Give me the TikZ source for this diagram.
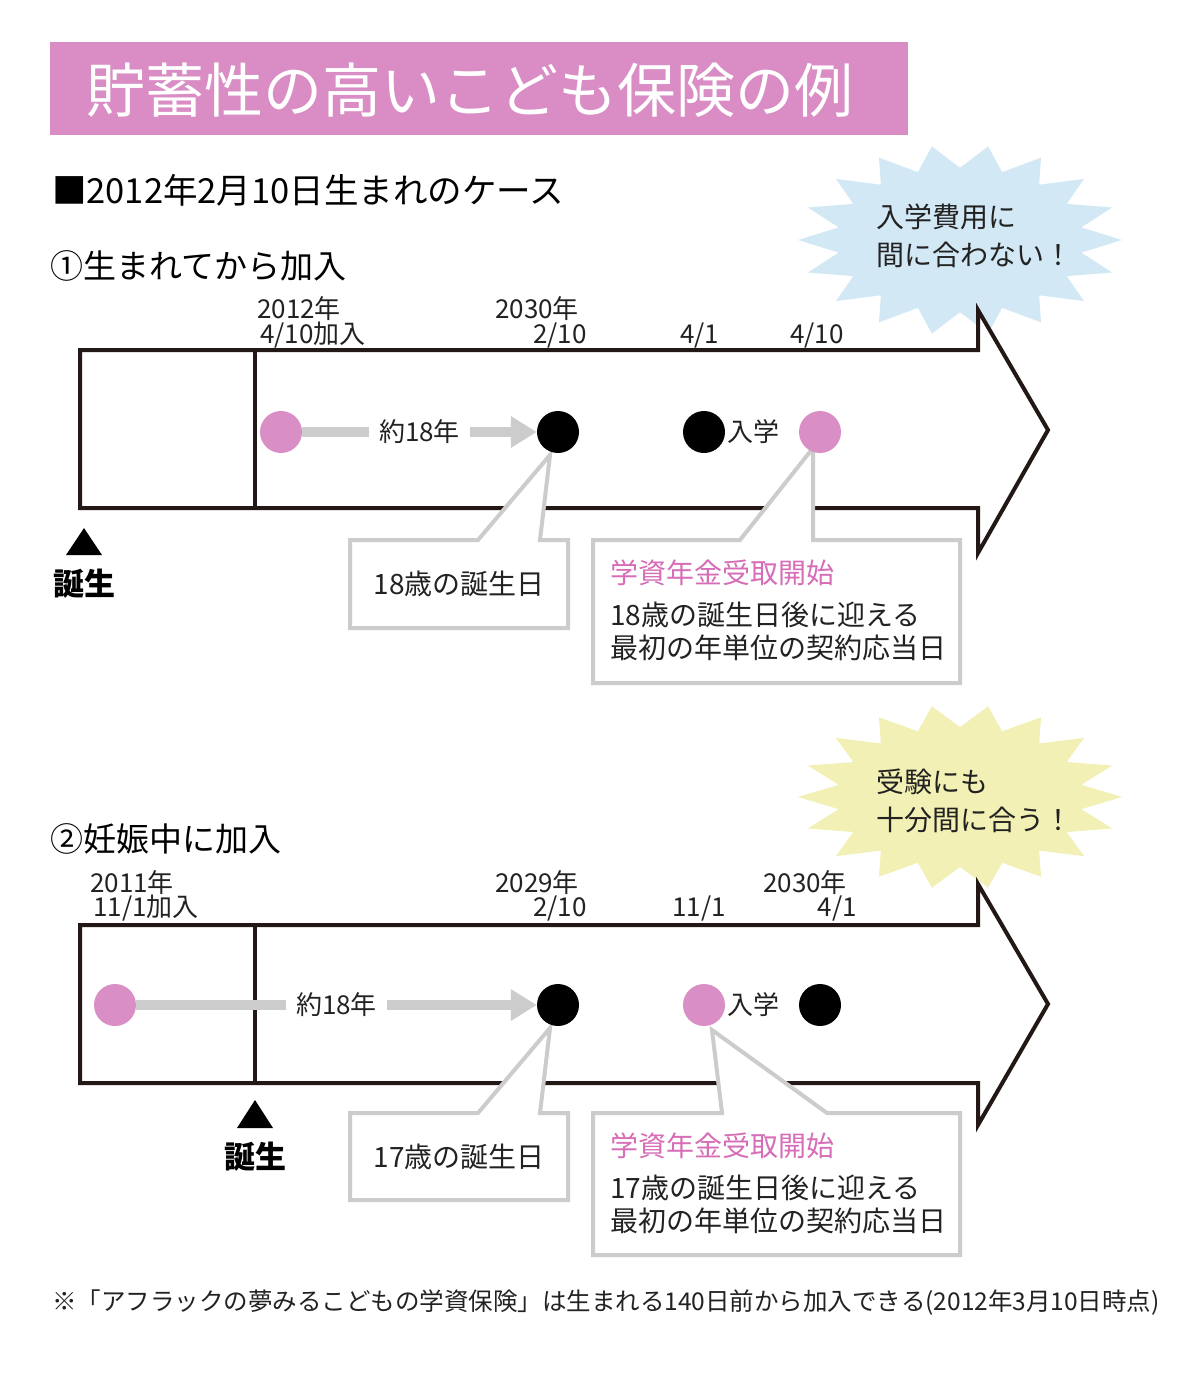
\documentclass[tikz,border=0pt]{standalone}
\usepackage{fontspec}
\setmainfont{Noto Sans CJK JP}
\usetikzlibrary{arrows.meta}
\definecolor{linec}{HTML}{231815}
\definecolor{textc}{HTML}{222222}
\definecolor{pinkc}{HTML}{DA8EC6}
\definecolor{pinktext}{HTML}{D66DB6}
\definecolor{grayc}{HTML}{CCCCCC}
\definecolor{bluestar}{HTML}{D3E8F5}
\definecolor{yellowstar}{HTML}{F2F0B4}
\definecolor{titlebg}{HTML}{D98DC4}
\newcommand{\mystarburst}[5]{%
  \fill[#5] ({#1+#3},#2) \foreach \i in {1,...,35}{ -- ({#1+#3*(1-0.24*mod(\i,2))*cos(\i*10)},{#2+#4*(1-0.24*mod(\i,2))*sin(\i*10)}) } -- cycle;}
\begin{document}
\begin{tikzpicture}[x=1pt,y=-1pt,
  tl/.style={draw=linec,line width=4pt,fill=white,line join=miter},
  divider/.style={draw=linec,line width=4pt},
  pdot/.style={circle,fill=pinkc,minimum size=42pt,inner sep=0pt},
  bdot/.style={circle,fill=black,minimum size=42pt,inner sep=0pt},
  callout/.style={draw=grayc,line width=4pt,fill=white,line join=miter},
  gline/.style={draw=grayc,line width=10pt,-{Triangle[length=26pt,width=30pt]}},
  lab/.style={font=\fontsize{26}{28}\selectfont,inner sep=0pt,text=textc},
  head/.style={font=\fontsize{33}{36}\selectfont,inner sep=0pt,text=black},
  ctext/.style={font=\fontsize{28}{30}\selectfont,inner sep=0pt,text=textc},
  stext/.style={font=\fontsize{28}{38}\selectfont,inner sep=0pt,text=textc,align=left},
  birth/.style={font=\fontsize{31}{34}\selectfont\bfseries,inner sep=0pt,text=black},
  mid/.style={lab,fill=white,inner xsep=10pt,inner ysep=4pt}
]
\useasboundingbox (0,0) rectangle (1200,1400);
\fill[white] (0,0) rectangle (1200,1400);

% title
\fill[titlebg] (50,42) rectangle (908,135);
\node[font=\fontsize{59}{64}\selectfont,text=white,inner sep=0pt] (title) at (470,90) {貯蓄性の高いこども保険の例};

\node[head,font=\fontsize{34.5}{38}\selectfont,anchor=base west] (case) at (52,203) {■2012年2月10日生まれのケース};
\node[head,anchor=base west] (sec1) at (50,278) {①生まれてから加入};
\node[head,anchor=base west] (sec2) at (50,851) {②妊娠中に加入};

% starbursts
\mystarburst{960}{240}{162}{95}{bluestar}
\node[stext,anchor=north west] (s1) at (876,204) {入学費用に\\間に合わない！};
\mystarburst{960}{797}{162}{92}{yellowstar}
\node[stext,anchor=north west] (s2) at (876,769) {受験にも\\十分間に合う！};

% ===== timeline 1 =====
\path[tl] (80,350) -- (978,350) -- (978,310) -- (1048,430) -- (978,553) -- (978,508) -- (80,508) -- cycle;
\draw[divider] (255,350) -- (255,508);

\node[lab,anchor=base west] at (257,318) {2012年};
\node[lab,anchor=base west] at (260,343) {4/10加入};
\node[lab,anchor=base west] at (495,318) {2030年};
\node[lab,anchor=base east] at (587,343) {2/10};
\node[lab,anchor=base west] at (680,343) {4/1};
\node[lab,anchor=base west] at (790,343) {4/10};

\path[callout] (350,540) -- (478,540) -- (550,455) -- (540,540) -- (568,540) -- (568,628) -- (350,628) -- cycle;
\node[ctext] (c1) at (459,584) {18歳の誕生日};
\path[callout] (593,540) -- (740,540) -- (813,448) -- (813,540) -- (960,540) -- (960,683) -- (593,683) -- cycle;
\node[ctext,text=pinktext,anchor=base west] (c2a) at (610,583) {学資年金受取開始};
\node[ctext,anchor=base west] (c2b) at (610,625) {18歳の誕生日後に迎える};
\node[ctext,anchor=base west] (c2c) at (610,658) {最初の年単位の契約応当日};

\node[pdot] (p1) at (281,432) {};
\node[bdot] (b1) at (558,432) {};
\node[bdot] (b2) at (704,432) {};
\node[pdot] (p2) at (820,432) {};
\draw[gline] (p1) -- node[mid] {約18年} (b1);
\node[lab,anchor=west] (e1) at (727,432) {入学};

\fill[black] (84,528) -- (102,555) -- (66,555) -- cycle;
\node[birth,anchor=base] (t1) at (84,595) {誕生};

% ===== timeline 2 =====
\path[tl] (80,925) -- (978,925) -- (978,884) -- (1048,1004) -- (978,1125) -- (978,1083) -- (80,1083) -- cycle;
\draw[divider] (255,925) -- (255,1083);

\node[lab,anchor=base west] at (90,892) {2011年};
\node[lab,anchor=base west] at (93,916) {11/1加入};
\node[lab,anchor=base west] at (495,892) {2029年};
\node[lab,anchor=base east] at (587,916) {2/10};
\node[lab,anchor=base west] at (672,916) {11/1};
\node[lab,anchor=base west] at (763,892) {2030年};
\node[lab,anchor=base east] at (857,916) {4/1};

\path[callout] (350,1113) -- (478,1113) -- (550,1028) -- (540,1113) -- (568,1113) -- (568,1200) -- (350,1200) -- cycle;
\node[ctext] (c3) at (459,1157) {17歳の誕生日};
\path[callout] (593,1113) -- (722,1113) -- (712,1030) -- (827,1113) -- (960,1113) -- (960,1255) -- (593,1255) -- cycle;
\node[ctext,text=pinktext,anchor=base west] (c4a) at (610,1156) {学資年金受取開始};
\node[ctext,anchor=base west] (c4b) at (610,1198) {17歳の誕生日後に迎える};
\node[ctext,anchor=base west] (c4c) at (610,1231) {最初の年単位の契約応当日};

\node[pdot] (p3) at (115,1005) {};
\node[bdot] (b3) at (558,1005) {};
\node[pdot] (p4) at (704,1005) {};
\node[bdot] (b4) at (820,1005) {};
\draw[gline] (p3) -- node[mid] {約18年} (b3);
\node[lab,anchor=west] (e2) at (727,1005) {入学};

\fill[black] (255,1100) -- (273,1128) -- (237,1128) -- cycle;
\node[birth,anchor=base] (t2) at (255,1168) {誕生};

% footnote
\node[font=\fontsize{24.5}{27}\selectfont,inner sep=0pt,text=textc,anchor=base west] (foot) at (52,1310) {※「アフラックの夢みるこどもの学資保険」は生まれる140日前から加入できる(2012年3月10日時点)};
\end{tikzpicture}
\end{document}
